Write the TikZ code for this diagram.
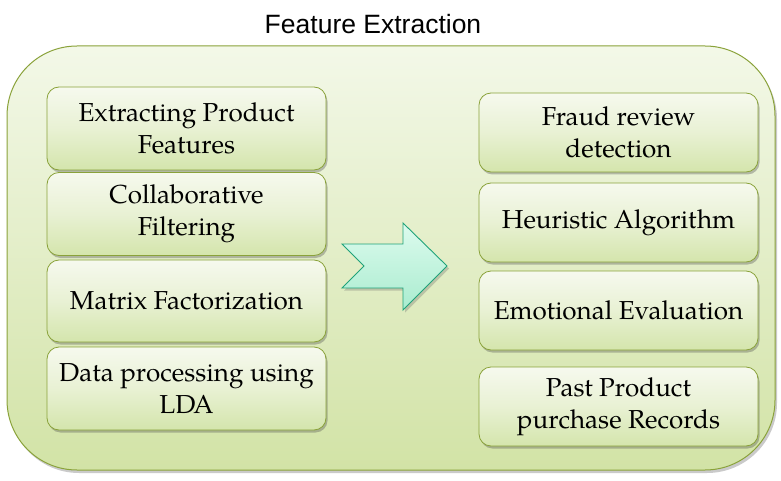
\documentclass[tikz,border=0pt]{standalone}
\usepackage{fontspec}
\setmainfont{texgyrepagella}[Extension=.otf, UprightFont=*-regular, BoldFont=*-bold]
\newfontfamily\titlefont{Liberation Sans}
\usetikzlibrary{shadows}
\definecolor{olive}{HTML}{8AA23A}
\definecolor{outerA}{HTML}{F3F8E8}
\definecolor{outerB}{HTML}{D2E3A6}
\definecolor{boxA}{HTML}{F6F9EE}
\definecolor{boxB}{HTML}{D4E5AC}
\definecolor{mintA}{HTML}{DDFBEE}
\definecolor{mintB}{HTML}{A9ECCF}
\definecolor{mintD}{HTML}{1FA37A}
\tikzset{
  itembox/.style={draw=olive, line width=0.8pt, rounded corners=12pt,
    top color=boxA, bottom color=boxB, middle color=boxA!60!boxB,
    drop shadow={shadow xshift=1.5pt, shadow yshift=-2.5pt, opacity=0.35, fill=black!70},
    minimum width=279pt, align=center, inner sep=0pt,
    font=\fontsize{26}{32}\selectfont},
}
\begin{document}
\begin{tikzpicture}[x=1pt,y=-1pt]
\useasboundingbox (0,0) rectangle (781,481);
% outer container
\node[draw=olive, line width=1pt, rounded corners=70pt, minimum width=768pt, minimum height=424pt,
  left color=outerA, right color=outerB, shading angle=0,
  drop shadow={shadow xshift=2pt, shadow yshift=-3pt, opacity=0.35, fill=black!60}]
  (outer) at (391,258) {};
\node[font=\titlefont\fontsize{26.5}{30}\selectfont] (title) at (373,24) {Feature Extraction};
% left boxes
\node[itembox, minimum height=83pt] (l1) at (186.5,128.5) {Extracting Product\\Features};
\node[itembox, minimum height=83pt] (l2) at (186.5,214) {Collaborative\\Filtering};
\node[itembox, minimum height=82pt] (l3) at (186.5,301) {Matrix Factorization};
\node[itembox, minimum height=83pt] (l4) at (186.5,388.5) {Data processing using\\LDA};
% right boxes
\node[itembox, minimum height=79pt] (r1) at (618.5,132.5) {Fraud review\\detection};
\node[itembox, minimum height=79pt] (r2) at (618.5,222.5) {Heuristic Algorithm};
\node[itembox, minimum height=79pt] (r3) at (618.5,310.5) {Emotional Evaluation};
\node[itembox, minimum height=79pt] (r4) at (618.5,406.5) {Past Product\\purchase Records};
% arrow
\coordinate (a0) at (342,244);
\draw[draw=mintD, line width=0.9pt, top color=mintA, bottom color=mintB,
  drop shadow={shadow xshift=2pt, shadow yshift=-2.5pt, opacity=0.3, fill=black!60}]
  (a0) -- (403,244) -- (403,223) -- (447,266) -- (403,310) -- (403,288) -- (342,288) -- (364,266) -- cycle;
\end{tikzpicture}
\end{document}
